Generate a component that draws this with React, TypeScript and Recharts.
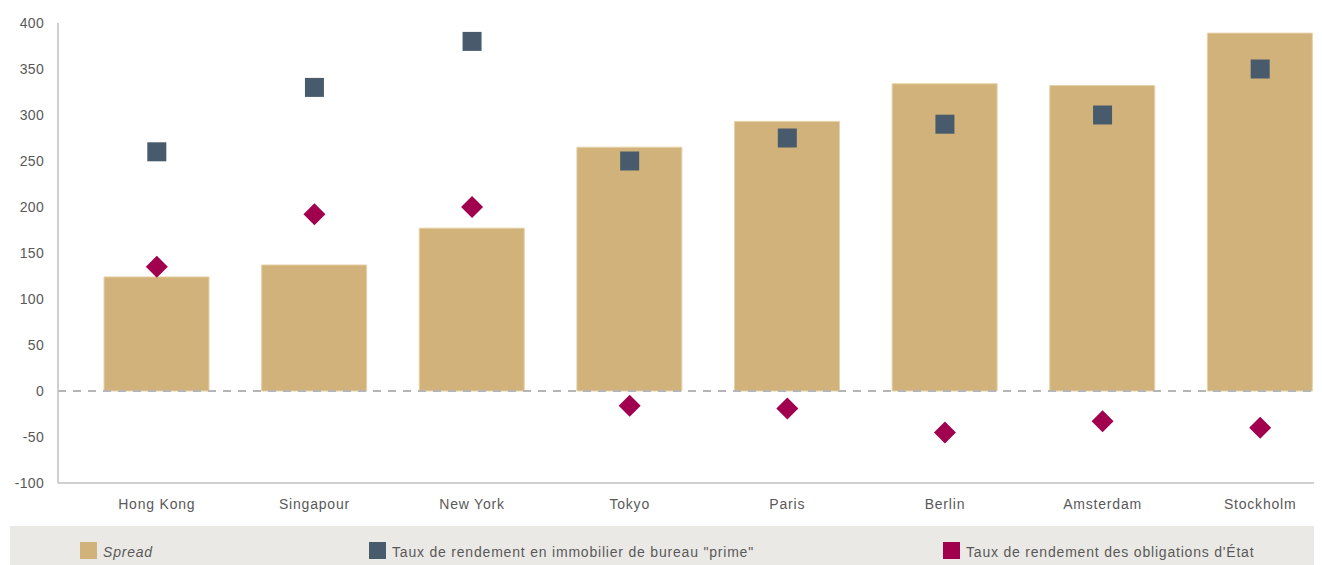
import React from "react";
import {
  ComposedChart,
  Bar,
  Scatter,
  XAxis,
  YAxis,
  ReferenceLine,
} from "recharts";

const cities = ["Hong Kong", "Singapour", "New York", "Tokyo", "Paris", "Berlin", "Amsterdam", "Stockholm"];
const spread = [124, 137, 177, 265, 293, 334, 332, 389];
const primeYield = [260, 330, 380, 250, 275, 290, 300, 350];
const bondYield = [135, 192, 200, -16, -19, -45, -33, -40];
const yTicks = [-100, -50, 0, 50, 100, 150, 200, 250, 300, 350, 400];

const seriesNames = {
  spread: "Spread",
  prime: 'Taux de rendement en immobilier de bureau "prime"',
  bond: "Taux de rendement des obligations d'État",
};

const COLORS = {
  spread: "#d2b27b",
  prime: "#475b6c",
  bond: "#a1004f",
  axis: "#c0c0c0",
  text: "#595959",
  legendBg: "#ebe9e5",
};

const data = cities.map((c, i) => ({
  city: c,
  spread: spread[i],
  prime: primeYield[i],
  bond: bondYield[i],
}));

const FONT = "'Liberation Sans', Arial, Helvetica, sans-serif";
const LS = 0.8;

const SquareShape = (props: any) => {
  const { cx, cy } = props;
  if (cx == null || cy == null) return null;
  const s = 19;
  return <rect x={cx - s / 2} y={cy - s / 2} width={s} height={s} fill={COLORS.prime} />;
};

const DiamondShape = (props: any) => {
  const { cx, cy } = props;
  if (cx == null || cy == null) return null;
  const r = 11;
  return (
    <path
      d={`M${cx},${cy - r} L${cx + r},${cy} L${cx},${cy + r} L${cx - r},${cy} Z`}
      fill={COLORS.bond}
    />
  );
};

const legendItems = [
  { key: "spread", label: seriesNames.spread, color: COLORS.spread, italic: true, left: 80 },
  { key: "prime", label: seriesNames.prime, color: COLORS.prime, italic: false, left: 369 },
  { key: "bond", label: seriesNames.bond, color: COLORS.bond, italic: false, left: 943 },
];

export default function App() {
  return (
    <div
      style={{
        position: "relative",
        width: 1322,
        height: 565,
        marginLeft: -8,
        marginTop: -8,
        background: "#ffffff",
        fontFamily: FONT,
        overflow: "hidden",
      }}
    >
      <ComposedChart
        width={1345}
        height={520}
        data={data}
        margin={{ top: 23, right: 6, bottom: 7, left: 0 }}
        barSize={105}
      >
        <XAxis
          dataKey="city"
          axisLine={{ stroke: COLORS.axis, strokeWidth: 1.5 }}
          tickLine={false}
          tickMargin={10}
          height={30}
          padding={{ left: 20, right: 0 }}
          tick={{ fill: COLORS.text, fontSize: 14, fontFamily: FONT, letterSpacing: LS }}
          interval={0}
        />
        <YAxis
          domain={[-100, 400]}
          ticks={yTicks}
          type="number"
          width={58}
          axisLine={{ stroke: COLORS.axis, strokeWidth: 1.5 }}
          tickLine={false}
          tickMargin={8}
          tick={{ fill: COLORS.text, fontSize: 14, fontFamily: FONT, letterSpacing: 0.3 }}
          allowDataOverflow
        />
        <Bar
          dataKey="spread"
          fill={COLORS.spread}
          stroke="#e6d2a6"
          strokeWidth={1}
          isAnimationActive={false}
        />
        <ReferenceLine y={0} stroke="#b5b5b5" strokeWidth={2} strokeDasharray="8 7" />
        <Scatter dataKey="prime" shape={SquareShape} isAnimationActive={false} />
        <Scatter dataKey="bond" shape={DiamondShape} isAnimationActive={false} />
      </ComposedChart>
      <div
        style={{
          position: "absolute",
          left: 10,
          top: 526,
          width: 1312,
          height: 39,
          background: COLORS.legendBg,
        }}
      >
        {legendItems.map((it) => (
          <div
            key={it.key}
            style={{
              position: "absolute",
              left: it.left - 10,
              top: 16,
              display: "flex",
              alignItems: "center",
              height: 17,
            }}
          >
            <span
              style={{
                display: "inline-block",
                width: 17,
                height: 17,
                background: it.color,
                marginRight: 6,
              }}
            />
            <span
              style={{
                color: COLORS.text,
                fontSize: 14,
                letterSpacing: LS,
                fontStyle: it.italic ? "italic" : "normal",
                whiteSpace: "nowrap",
                lineHeight: "17px",
                position: "relative",
                top: 2,
              }}
            >
              {it.label}
            </span>
          </div>
        ))}
      </div>
    </div>
  );
}
